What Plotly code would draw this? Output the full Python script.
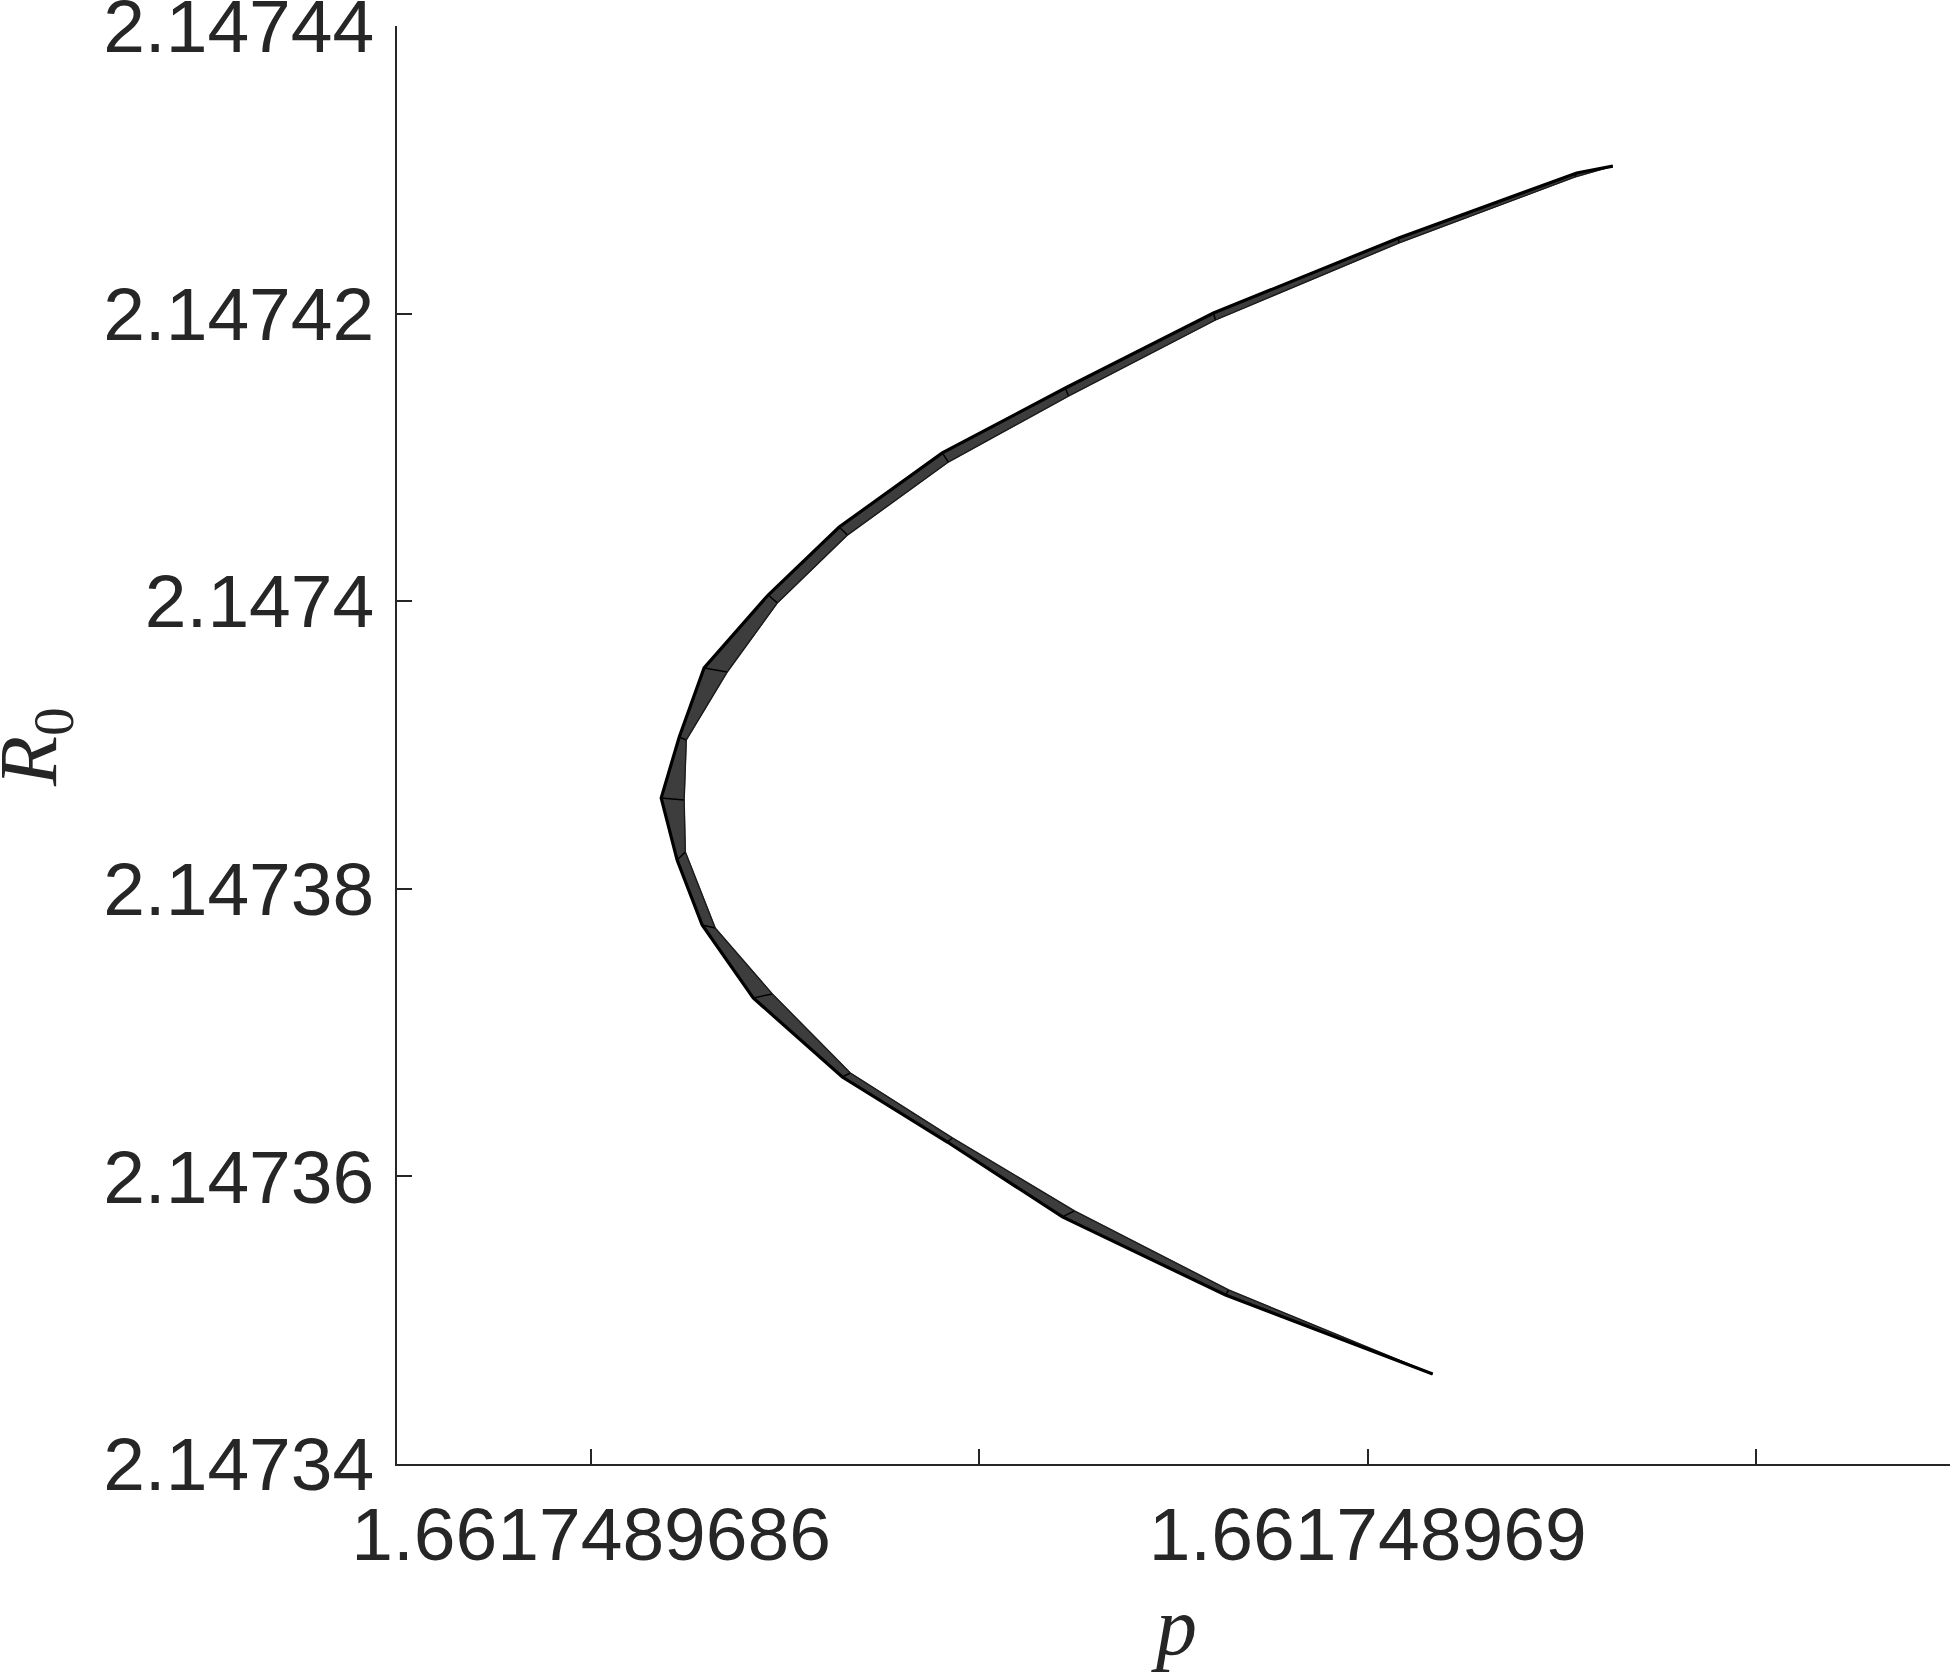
import plotly.graph_objects as go

# outer (dark) edge of the R0(p) band
p_outer = [1.6617489691263, 1.6617489691077, 1.6617489690160, 1.6617489689206,
           1.6617489688443, 1.6617489687809, 1.6617489687278, 1.6617489686912,
           1.6617489686582, 1.6617489686454, 1.6617489686361, 1.6617489686443,
           1.6617489686572, 1.6617489686835, 1.6617489687294, 1.6617489687835,
           1.6617489688428, 1.6617489689268, 1.6617489690335]
r0_outer = [2.14743026, 2.14742978, 2.14742526, 2.14742004, 2.14741483, 2.14741031,
            2.14740516, 2.14740043, 2.14739536, 2.14739056, 2.14738632, 2.14738200,
            2.14737748, 2.14737241, 2.14736691, 2.14736239, 2.14735718, 2.14735175,
            2.14734626]

# inner edge of the band
p_inner = [1.6617489691263, 1.6617489691067, 1.6617489690160, 1.6617489689216,
           1.6617489688459, 1.6617489687840, 1.6617489687320, 1.6617489686959,
           1.6617489686701, 1.6617489686490, 1.6617489686479, 1.6617489686485,
           1.6617489686639, 1.6617489686933, 1.6617489687335, 1.6617489687861,
           1.6617489688490, 1.6617489689284, 1.6617489690335]
r0_inner = [2.14743026, 2.14742950, 2.14742491, 2.14741956, 2.14741427, 2.14740968,
            2.14740460, 2.14739988, 2.14739508, 2.14739035, 2.14738618, 2.14738256,
            2.14737727, 2.14737269, 2.14736719, 2.14736267, 2.14735760, 2.14735210,
            2.14734626]

x_ticks = [1.6617489686, 1.6617489688, 1.6617489690, 1.6617489692]
x_ticktext = ["1.6617489686", "", "1.661748969", ""]
y_ticks = [2.14734, 2.14736, 2.14738, 2.1474, 2.14742, 2.14744]
y_ticktext = ["2.14734", "2.14736", "2.14738", "2.1474", "2.14742", "2.14744"]

fig = go.Figure()

# shaded band
fig.add_trace(go.Scatter(x=p_outer + p_inner[::-1], y=r0_outer + r0_inner[::-1],
                         mode="lines", fill="toself", fillcolor="#3d3d3d",
                         line=dict(color="#3d3d3d", width=1.5), hoverinfo="skip"))

# mesh edges across the band
seg_x, seg_y = [], []
for a, b, c, d in zip(p_outer, r0_outer, p_inner, r0_inner):
    seg_x += [a, c, None]
    seg_y += [b, d, None]
fig.add_trace(go.Scatter(x=seg_x, y=seg_y, mode="lines",
                         line=dict(color="black", width=1.5), hoverinfo="skip"))

fig.add_trace(go.Scatter(x=p_inner, y=r0_inner, mode="lines",
                         line=dict(color="#1a1a1a", width=1.2)))
fig.add_trace(go.Scatter(x=p_outer, y=r0_outer, mode="lines",
                         line=dict(color="black", width=3.2)))

axis_font = dict(family="Liberation Sans, Arial", size=75, color="#262626")
title_font = dict(family="Liberation Serif, Times New Roman", size=82, color="#262626")
eps = 1.5e-10  # keep the end ticks just inside the range
fig.update_xaxes(range=[1.6617489685, 1.6617489693], tickmode="array",
                 tickvals=x_ticks, ticktext=x_ticktext, ticks="inside", ticklen=15,
                 tickwidth=1.5, tickcolor="#262626", showline=True, linecolor="#262626",
                 linewidth=1.5, showgrid=False, zeroline=False, tickfont=axis_font,
                 ticklabelstandoff=4, ticklabeloverflow="allow", automargin=False)
fig.update_yaxes(range=[2.14734 - eps, 2.14744 + eps], tickmode="array",
                 tickvals=y_ticks, ticktext=y_ticktext, ticks="inside", ticklen=15,
                 tickwidth=1.5, tickcolor="#262626", showline=True, linecolor="#262626",
                 linewidth=1.5, showgrid=False, zeroline=False, tickfont=axis_font,
                 ticklabelstandoff=6, ticklabeloverflow="allow", automargin=False)

# axis titles
fig.add_annotation(text="<i>p</i>", xref="paper", yref="paper", x=0.5, y=-0.1127,
                   xanchor="center", yanchor="middle", showarrow=False, font=title_font)
fig.add_annotation(text="<i>R</i><sub>0</sub>", xref="paper", yref="paper",
                   x=-0.2337, y=0.4986, xanchor="center", yanchor="middle",
                   textangle=-90, showarrow=False, font=title_font)

fig.update_layout(width=1950, height=1674, showlegend=False,
                  plot_bgcolor="white", paper_bgcolor="white",
                  margin=dict(l=397, r=0, t=26, b=210, autoexpand=False))

# drop the page's default body margin so the figure fills the window
fig.write_html("out.html", config={"displayModeBar": False},
               post_script="document.body.style.margin='0px';")
